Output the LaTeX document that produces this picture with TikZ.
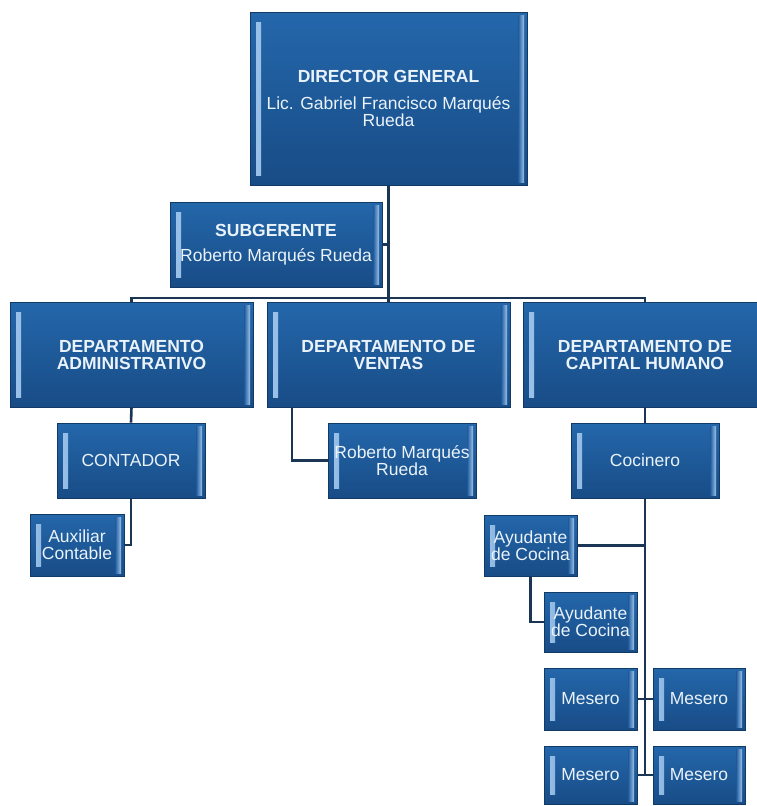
\documentclass[tikz,border=0pt]{standalone}
\usepackage{fontspec}
\setmainfont{Liberation Sans}
\usetikzlibrary{backgrounds}
\definecolor{boxfill}{HTML}{1E5A9B}
\definecolor{boxtop}{HTML}{2467AB}
\definecolor{boxbot}{HTML}{184C86}
\definecolor{boxedge}{HTML}{123A66}
\definecolor{hilite}{HTML}{9CC3EA}
\definecolor{conncol}{HTML}{1B3654}
\definecolor{txtcol}{HTML}{EAF2FA}
\tikzset{
  orgbox/.style 2 args={draw=boxedge, line width=0.8pt,
    top color=boxtop, bottom color=boxbot,
    minimum width=#1, minimum height=#2, inner sep=0pt,
    text=txtcol, align=center, font=\fontsize{17.5}{17}\selectfont,
    path picture={
      \shade[left color=hilite, right color=boxfill]
        ([xshift=6pt,yshift=-10pt]path picture bounding box.north west) rectangle
        ([xshift=11pt,yshift=10pt]path picture bounding box.south west);
      \shade[left color=boxfill, right color=hilite]
        ([xshift=-9pt,yshift=-3pt]path picture bounding box.north east) rectangle
        ([xshift=-3pt,yshift=3pt]path picture bounding box.south east);
    }},
  conn/.style={draw=conncol, line width=2.6pt},
}
\begin{document}
\begin{tikzpicture}[x=1pt,y=-1pt]
\useasboundingbox (0,0) rectangle (757,806);
\clip (0,0) rectangle (757,806);
\node[orgbox={277pt}{173pt}] (dir) at (388.5,98.5) {\bfseries DIRECTOR GENERAL\\[10pt]Lic. Gabriel Francisco Marqués\\Rueda};
\node[orgbox={212pt}{85pt}] (sub) at (276,244.5) {\bfseries SUBGERENTE\\[8pt]Roberto Marqués Rueda};
\node[orgbox={243pt}{105pt}] (adm) at (131.5,354.5) {\bfseries DEPARTAMENTO\\\bfseries ADMINISTRATIVO};
\node[orgbox={243pt}{105pt}] (ven) at (388.5,354.5) {\bfseries DEPARTAMENTO DE\\\bfseries VENTAS};
\node[orgbox={244pt}{105pt}] (cap) at (645,354.5) {\bfseries DEPARTAMENTO DE\\\bfseries CAPITAL HUMANO};
\node[orgbox={148pt}{75pt}] (cont) at (131,460.5) {CONTADOR};
\node[orgbox={148pt}{75pt}] (rob) at (402,460.5) {Roberto Marqués\\Rueda};
\node[orgbox={148pt}{75pt}] (coc) at (645,460.5) {Cocinero};
\node[orgbox={94pt}{62pt}] (aux) at (77,545) {Auxiliar\\Contable};
\node[orgbox={93pt}{61pt}] (ay1) at (530.5,545.5) {Ayudante\\de Cocina};
\node[orgbox={93pt}{60pt}] (ay2) at (590.5,622) {Ayudante\\de Cocina};
\node[orgbox={93pt}{62pt}] (m1) at (590.5,699) {Mesero};
\node[orgbox={92pt}{62pt}] (m2) at (699,699) {Mesero};
\node[orgbox={93pt}{58pt}] (m3) at (590.5,775) {Mesero};
\node[orgbox={92pt}{58pt}] (m4) at (699,775) {Mesero};
\coordinate (bus) at (0,298);
\begin{scope}[on background layer]
\fill[white] (0,0) rectangle (757,806);
\draw[conn] (dir.south) -- (ven.north);
\draw[conn] (adm.north) -- (adm.north |- bus) -- (cap.north |- bus) -- (cap.north);
\draw[conn] (sub.east) -- (sub.east -| dir.south);
\draw[conn] (adm.south) -- (cont.north);
\draw[conn] (cont.south) |- (aux.east);
\draw[conn] ([xshift=-96.5pt]ven.south) |- (rob.west);
\draw[conn] (cap.south) -- (coc.north);
\draw[conn] (coc.south) -- (coc.south |- m3.east);
\draw[conn] (ay1.east) -- (ay1.east -| coc.south);
\draw[conn] (ay1.south) |- (ay2.west);
\draw[conn] (m1.east) -- (m2.west);
\draw[conn] (m3.east) -- (m4.west);
\end{scope}
\end{tikzpicture}
\end{document}
